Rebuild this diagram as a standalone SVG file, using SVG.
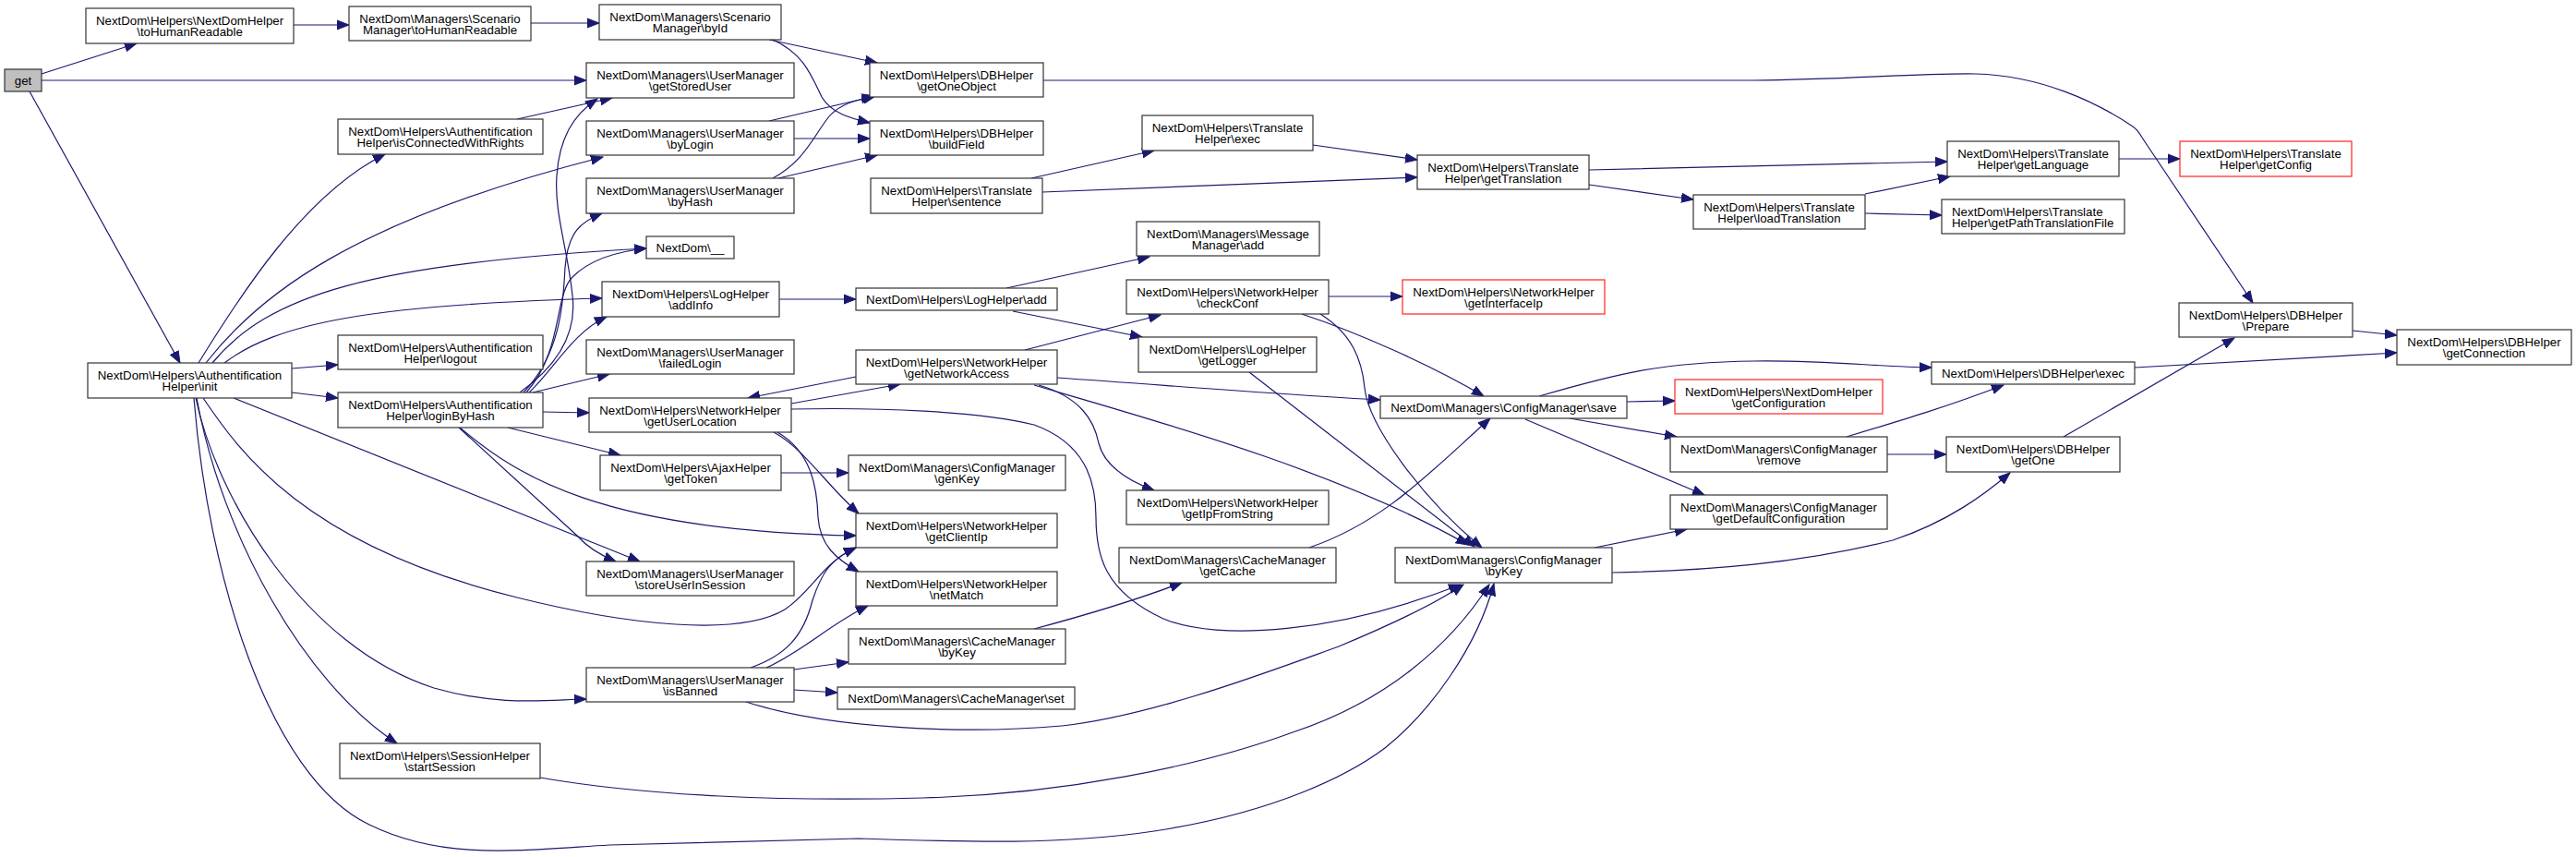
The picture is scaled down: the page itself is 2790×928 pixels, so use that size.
<svg xmlns="http://www.w3.org/2000/svg" width="2790" height="928" viewBox="0 0 2790 928">
<style>
.n rect{fill:#fff;stroke:#333;stroke-width:1.2}
.n.r rect{stroke:#f22}
.n text{font-family:"Liberation Sans",Arial,Helvetica,sans-serif;font-size:13.3px;text-anchor:middle;fill:#000}
.e path{fill:none;stroke:#191970;stroke-width:1.2;marker-end:url(#ah)}
</style>
<defs>
<marker id="ah" markerUnits="userSpaceOnUse" markerWidth="14" markerHeight="12" refX="13" refY="6" orient="auto">
<path d="M0,1 L13,6 L0,11 z" fill="#191970" stroke="#191970" stroke-width="1"/>
</marker>
</defs>
<rect width="2790" height="928" fill="#fff"/>
<g id="edges" class="e">
<path d="M45,80 L148,47"/>
<path d="M45,87 L635,87"/>
<path d="M32,99 L195,393"/>
<path d="M318,27 L378,27"/>
<path d="M575,25 L649,25"/>
<path d="M833,43 L950,68"/>
<path d="M837,43 C870,58 878,80 890,105 C900,122 920,128 942,133"/>
<path d="M560,129 L663,106"/>
<path d="M833,131 L948,104"/>
<path d="M837,193 C870,175 880,150 895,130 C905,115 925,108 946,105"/>
<path d="M860,150 L942,150"/>
<path d="M843,193 L950,168"/>
<path d="M215,393 C260,320 330,210 417,167"/>
<path d="M223,393 C280,320 380,240 653,170"/>
<path d="M230,393 C290,320 400,285 700,269"/>
<path d="M243,393 C300,350 400,330 652,323"/>
<path d="M316,399 L366,395"/>
<path d="M316,425 L366,431"/>
<path d="M253,431 L693,608"/>
<path d="M497,463 L625,580 Q640,597 667,608"/>
<path d="M498,463 C560,515 650,575 927,580"/>
<path d="M550,463 L672,493"/>
<path d="M220,431 C260,490 330,590 560,647 C680,677 800,690 850,660 C880,640 890,610 927,593"/>
<path d="M212,431 C235,540 330,700 470,745 C540,765 590,758 635,757"/>
<path d="M213,431 C240,580 330,740 430,805"/>
<path d="M210,431 C225,620 290,840 400,893 C480,932 560,921 660,915 L930,908 C1050,912 1150,915 1250,900 C1380,880 1460,840 1500,810 C1550,770 1600,700 1618,632"/>
<path d="M585,842 C700,862 850,868 1000,864 C1150,860 1300,830 1400,793 C1500,760 1570,700 1613,633"/>
<path d="M808,760 C900,790 1050,795 1150,786 C1250,775 1380,725 1450,700 C1510,675 1560,650 1585,633"/>
<path d="M857,443 C950,441 1060,445 1120,460 C1175,480 1187,520 1187,560 C1187,600 1195,640 1260,670 C1320,695 1450,685 1582,633"/>
<path d="M1120,417 C1250,455 1450,510 1590,590"/>
<path d="M1125,417 C1170,430 1185,455 1190,480 C1195,500 1215,518 1250,531"/>
<path d="M1110,379 L1257,341"/>
<path d="M927,408 L810,431"/>
<path d="M857,437 L975,416"/>
<path d="M1145,409 C1300,420 1400,428 1495,433"/>
<path d="M1439,321 L1519,321"/>
<path d="M1410,340 C1470,360 1550,395 1607,429"/>
<path d="M1430,340 C1465,362 1475,390 1478,420 C1482,460 1540,540 1605,593"/>
<path d="M1353,403 L1597,592"/>
<path d="M1090,312 L1245,278"/>
<path d="M1097,337 L1237,365"/>
<path d="M844,324 L927,324"/>
<path d="M1117,193 L1250,163"/>
<path d="M1129,208 L1535,192"/>
<path d="M1422,157 L1535,173"/>
<path d="M1721,184 C1850,181 1950,178 2109,175"/>
<path d="M1721,200 L1834,216"/>
<path d="M2020,210 L2112,191"/>
<path d="M2020,231 L2103,233"/>
<path d="M2295,172 L2361,172"/>
<path d="M1130,87 L1900,87 C2000,86 2080,79 2140,80 C2210,82 2270,110 2310,137 C2316,141 2318,146 2322,152 L2440,328"/>
<path d="M2548,358 L2596,363"/>
<path d="M2312,398 L2596,382"/>
<path d="M2235,473 L2420,366"/>
<path d="M1667,429 C1750,405 1800,392 1900,391 C1980,390 2030,397 2092,398"/>
<path d="M1762,435 L1814,434"/>
<path d="M1700,453 L1816,473"/>
<path d="M1652,454 L1846,536"/>
<path d="M2000,473 C2060,455 2110,440 2170,417"/>
<path d="M2044,492 L2108,492"/>
<path d="M1727,593 L1827,573"/>
<path d="M1746,620 C1850,618 1950,610 2050,585 C2110,565 2150,535 2177,512"/>
<path d="M1120,681 C1180,665 1230,650 1280,631"/>
<path d="M1418,593 C1500,565 1550,510 1614,453"/>
<path d="M846,512 L919,512"/>
<path d="M860,725 L919,717"/>
<path d="M860,747 L907,750"/>
<path d="M813,723 C850,710 870,690 880,650 C890,620 900,605 927,593"/>
<path d="M830,723 C870,705 900,675 940,656"/>
<path d="M838,468 C870,485 895,525 930,556"/>
<path d="M842,468 C880,490 885,530 886,560 C888,590 905,605 930,619"/>
<path d="M588,446 L638,447"/>
<path d="M577,425 L660,405"/>
<path d="M573,425 C600,400 620,360 657,343"/>
<path d="M570,425 C610,380 600,320 620,300 C640,280 670,272 700,269"/>
<path d="M567,425 C610,380 610,320 612,290 C615,250 630,240 652,231"/>
<path d="M563,425 C605,395 625,360 620,320 C615,270 600,230 603,190 C606,150 620,125 647,107"/>
</g>
<g id="get" class="n"><rect x="5" y="75" width="40" height="24" style="fill:#bfbfbf"/><text x="25" y="91.7">get</text></g>
<g id="n_thr" class="n"><rect x="93" y="9" width="225" height="38"/><text x="205.5" y="26.7">NextDom\Helpers\NextDomHelper</text><text x="205.5" y="38.7">\toHumanReadable</text></g>
<g id="n_smthr" class="n"><rect x="378" y="7" width="197" height="37"/><text x="476.5" y="24.7">NextDom\Managers\Scenario</text><text x="476.5" y="36.7">Manager\toHumanReadable</text></g>
<g id="n_byId" class="n"><rect x="649" y="5" width="197" height="38"/><text x="747.5" y="22.7">NextDom\Managers\Scenario</text><text x="747.5" y="34.7">Manager\byId</text></g>
<g id="n_getStoredUser" class="n"><rect x="635" y="68" width="225" height="38"/><text x="747.5" y="85.7">NextDom\Managers\UserManager</text><text x="747.5" y="97.7">\getStoredUser</text></g>
<g id="n_isConn" class="n"><rect x="366" y="129" width="222" height="38"/><text x="477" y="146.7">NextDom\Helpers\Authentification</text><text x="477" y="158.7">Helper\isConnectedWithRights</text></g>
<g id="n_byLogin" class="n"><rect x="635" y="131" width="225" height="37"/><text x="747.5" y="148.7">NextDom\Managers\UserManager</text><text x="747.5" y="160.7">\byLogin</text></g>
<g id="n_byHash" class="n"><rect x="635" y="193" width="225" height="38"/><text x="747.5" y="210.7">NextDom\Managers\UserManager</text><text x="747.5" y="222.7">\byHash</text></g>
<g id="n_underscore" class="n"><rect x="700" y="256" width="95" height="24"/><text x="747.5" y="272.7">NextDom\__</text></g>
<g id="n_addInfo" class="n"><rect x="652" y="305" width="192" height="38"/><text x="748" y="322.7">NextDom\Helpers\LogHelper</text><text x="748" y="334.7">\addInfo</text></g>
<g id="n_logout" class="n"><rect x="366" y="363" width="222" height="37"/><text x="477" y="380.7">NextDom\Helpers\Authentification</text><text x="477" y="392.7">Helper\logout</text></g>
<g id="n_failedLogin" class="n"><rect x="635" y="368" width="225" height="37"/><text x="747.5" y="385.7">NextDom\Managers\UserManager</text><text x="747.5" y="397.7">\failedLogin</text></g>
<g id="n_init" class="n"><rect x="95" y="393" width="221" height="38"/><text x="205.5" y="410.7">NextDom\Helpers\Authentification</text><text x="205.5" y="422.7">Helper\init</text></g>
<g id="n_loginByHash" class="n"><rect x="366" y="425" width="222" height="38"/><text x="477" y="442.7">NextDom\Helpers\Authentification</text><text x="477" y="454.7">Helper\loginByHash</text></g>
<g id="n_getUserLocation" class="n"><rect x="638" y="431" width="219" height="37"/><text x="747.5" y="448.7">NextDom\Helpers\NetworkHelper</text><text x="747.5" y="460.7">\getUserLocation</text></g>
<g id="n_getToken" class="n"><rect x="650" y="493" width="196" height="38"/><text x="748" y="510.7">NextDom\Helpers\AjaxHelper</text><text x="748" y="522.7">\getToken</text></g>
<g id="n_storeUser" class="n"><rect x="635" y="608" width="225" height="37"/><text x="747.5" y="625.7">NextDom\Managers\UserManager</text><text x="747.5" y="637.7">\storeUserInSession</text></g>
<g id="n_isBanned" class="n"><rect x="635" y="723" width="225" height="37"/><text x="747.5" y="740.7">NextDom\Managers\UserManager</text><text x="747.5" y="752.7">\isBanned</text></g>
<g id="n_startSession" class="n"><rect x="368" y="805" width="217" height="38"/><text x="476.5" y="822.7">NextDom\Helpers\SessionHelper</text><text x="476.5" y="834.7">\startSession</text></g>
<g id="n_getOneObject" class="n"><rect x="942" y="68" width="188" height="37"/><text x="1036" y="85.7">NextDom\Helpers\DBHelper</text><text x="1036" y="97.7">\getOneObject</text></g>
<g id="n_buildField" class="n"><rect x="942" y="131" width="188" height="37"/><text x="1036" y="148.7">NextDom\Helpers\DBHelper</text><text x="1036" y="160.7">\buildField</text></g>
<g id="n_sentence" class="n"><rect x="943" y="193" width="186" height="38"/><text x="1036" y="210.7">NextDom\Helpers\Translate</text><text x="1036" y="222.7">Helper\sentence</text></g>
<g id="n_logAdd" class="n"><rect x="927" y="312" width="218" height="24"/><text x="1036" y="328.7">NextDom\Helpers\LogHelper\add</text></g>
<g id="n_getNetworkAccess" class="n"><rect x="927" y="379" width="218" height="37"/><text x="1036" y="396.7">NextDom\Helpers\NetworkHelper</text><text x="1036" y="408.7">\getNetworkAccess</text></g>
<g id="n_genKey" class="n"><rect x="919" y="493" width="235" height="38"/><text x="1036.5" y="510.7">NextDom\Managers\ConfigManager</text><text x="1036.5" y="522.7">\genKey</text></g>
<g id="n_getClientIp" class="n"><rect x="927" y="556" width="218" height="37"/><text x="1036" y="573.7">NextDom\Helpers\NetworkHelper</text><text x="1036" y="585.7">\getClientIp</text></g>
<g id="n_netMatch" class="n"><rect x="927" y="619" width="218" height="37"/><text x="1036" y="636.7">NextDom\Helpers\NetworkHelper</text><text x="1036" y="648.7">\netMatch</text></g>
<g id="n_cacheByKey" class="n"><rect x="919" y="681" width="235" height="38"/><text x="1036.5" y="698.7">NextDom\Managers\CacheManager</text><text x="1036.5" y="710.7">\byKey</text></g>
<g id="n_cacheSet" class="n"><rect x="907" y="744" width="257" height="24"/><text x="1035.5" y="760.7">NextDom\Managers\CacheManager\set</text></g>
<g id="n_transExec" class="n"><rect x="1237" y="125" width="185" height="38"/><text x="1329.5" y="142.7">NextDom\Helpers\Translate</text><text x="1329.5" y="154.7">Helper\exec</text></g>
<g id="n_msgAdd" class="n"><rect x="1231" y="240" width="198" height="37"/><text x="1330" y="257.7">NextDom\Managers\Message</text><text x="1330" y="269.7">Manager\add</text></g>
<g id="n_checkConf" class="n"><rect x="1220" y="303" width="219" height="37"/><text x="1329.5" y="320.7">NextDom\Helpers\NetworkHelper</text><text x="1329.5" y="332.7">\checkConf</text></g>
<g id="n_getLogger" class="n"><rect x="1233" y="365" width="193" height="38"/><text x="1329.5" y="382.7">NextDom\Helpers\LogHelper</text><text x="1329.5" y="394.7">\getLogger</text></g>
<g id="n_getIpFromString" class="n"><rect x="1220" y="531" width="219" height="37"/><text x="1329.5" y="548.7">NextDom\Helpers\NetworkHelper</text><text x="1329.5" y="560.7">\getIpFromString</text></g>
<g id="n_getCache" class="n"><rect x="1212" y="593" width="235" height="38"/><text x="1329.5" y="610.7">NextDom\Managers\CacheManager</text><text x="1329.5" y="622.7">\getCache</text></g>
<g id="n_getTranslation" class="n"><rect x="1535" y="168" width="186" height="37"/><text x="1628" y="185.7">NextDom\Helpers\Translate</text><text x="1628" y="197.7">Helper\getTranslation</text></g>
<g id="n_getInterfaceIp" class="n r"><rect x="1519" y="303" width="219" height="37"/><text x="1628.5" y="320.7">NextDom\Helpers\NetworkHelper</text><text x="1628.5" y="332.7">\getInterfaceIp</text></g>
<g id="n_save" class="n"><rect x="1495" y="429" width="267" height="24"/><text x="1628.5" y="445.7">NextDom\Managers\ConfigManager\save</text></g>
<g id="n_cfgByKey" class="n"><rect x="1511" y="593" width="235" height="38"/><text x="1628.5" y="610.7">NextDom\Managers\ConfigManager</text><text x="1628.5" y="622.7">\byKey</text></g>
<g id="n_loadTranslation" class="n"><rect x="1834" y="211" width="186" height="37"/><text x="1927" y="228.7">NextDom\Helpers\Translate</text><text x="1927" y="240.7">Helper\loadTranslation</text></g>
<g id="n_getConfiguration" class="n r"><rect x="1814" y="411" width="225" height="37"/><text x="1926.5" y="428.7">NextDom\Helpers\NextDomHelper</text><text x="1926.5" y="440.7">\getConfiguration</text></g>
<g id="n_remove" class="n"><rect x="1809" y="473" width="235" height="38"/><text x="1926.5" y="490.7">NextDom\Managers\ConfigManager</text><text x="1926.5" y="502.7">\remove</text></g>
<g id="n_getDefaultConfiguration" class="n"><rect x="1809" y="536" width="235" height="37"/><text x="1926.5" y="553.7">NextDom\Managers\ConfigManager</text><text x="1926.5" y="565.7">\getDefaultConfiguration</text></g>
<g id="n_getLanguage" class="n"><rect x="2109" y="153" width="186" height="38"/><text x="2202" y="170.7">NextDom\Helpers\Translate</text><text x="2202" y="182.7">Helper\getLanguage</text></g>
<g id="n_getPathTranslationFile" class="n"><rect x="2103" y="216" width="198" height="37"/><text x="2114" y="233.7" style="text-anchor:start">NextDom\Helpers\Translate</text><text x="2114" y="245.7" style="text-anchor:start">Helper\getPathTranslationFile</text></g>
<g id="n_dbExec" class="n"><rect x="2092" y="392" width="220" height="24"/><text x="2202" y="408.7">NextDom\Helpers\DBHelper\exec</text></g>
<g id="n_getOne" class="n"><rect x="2108" y="473" width="188" height="38"/><text x="2202" y="490.7">NextDom\Helpers\DBHelper</text><text x="2202" y="502.7">\getOne</text></g>
<g id="n_getConfig" class="n r"><rect x="2361" y="153" width="186" height="38"/><text x="2454" y="170.7">NextDom\Helpers\Translate</text><text x="2454" y="182.7">Helper\getConfig</text></g>
<g id="n_prepare" class="n"><rect x="2360" y="328" width="188" height="37"/><text x="2454" y="345.7">NextDom\Helpers\DBHelper</text><text x="2454" y="357.7">\Prepare</text></g>
<g id="n_getConnection" class="n"><rect x="2596" y="357" width="189" height="38"/><text x="2690.5" y="374.7">NextDom\Helpers\DBHelper</text><text x="2690.5" y="386.7">\getConnection</text></g>
</svg>
